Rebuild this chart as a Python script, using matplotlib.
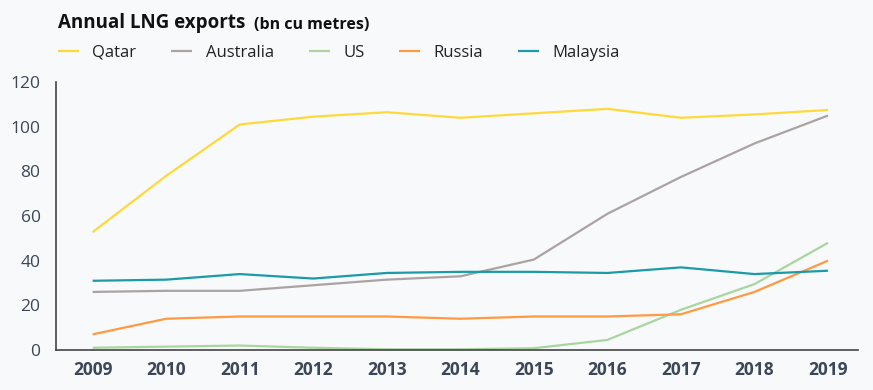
import matplotlib.pyplot as plt

years = list(range(2009, 2020))
qatar = [52.8, 78, 101, 104.5, 106.5, 104, 106, 108, 104, 105.5, 107.5]
australia = [26, 26.5, 26.5, 29, 31.5, 33, 40.5, 61, 77.5, 92.5, 105]
us = [1, 1.5, 2, 1, 0.3, 0.3, 0.8, 4.5, 18, 29.5, 48]
russia = [7, 14, 15, 15, 15, 14, 15, 15, 16, 26, 40]
malaysia = [31, 31.5, 34, 32, 34.5, 35, 35, 34.5, 37, 34, 35.5]

namen = ["Qatar", "Australia", "US", "Russia", "Malaysia"]
farben = ['#ffd93a', '#aba3a3', '#a9d6a0', '#ff9a42', '#1b9aa8']
reihen = [qatar, australia, us, russia, malaysia]

bg = '#f8f9fa'
txt = '#3b4657'
plt.rcParams['font.family'] = ['Open Sans', 'DejaVu Sans']

fig = plt.figure(figsize=(8.73, 3.9), dpi=100, facecolor=bg)
achse = fig.add_axes([0.064, 0.1026, 0.919, 0.687], facecolor=bg)

for werte, name, farbe in zip(reihen, namen, farben):
    achse.plot(years, werte, color=farbe, lw=1.6, label=name, solid_capstyle='butt')

achse.set_xlim(2008.5, 2019.41)
achse.set_ylim(0, 120)
achse.set_yticks(range(0, 121, 20))
achse.set_xticks(years)
achse.tick_params(length=0, colors=txt)
for lab in achse.get_yticklabels():
    lab.set_fontsize(12.5)
for lab in achse.get_xticklabels():
    lab.set_fontsize(12.5)
    lab.set_fontweight('bold')
achse.tick_params(axis='y', pad=11)
achse.tick_params(axis='x', pad=8)
for s in ['top', 'right']:
    achse.spines[s].set_visible(False)
for s in ['left', 'bottom']:
    achse.spines[s].set_color('#444444')
    achse.spines[s].set_linewidth(1.2)

fig.text(0.066, 0.942, 'Annual LNG exports', fontsize=13.5, fontweight='bold',
         color='#111111', va='center')
fig.text(0.291, 0.937, '(bn cu metres)', fontsize=11.5, fontweight='bold',
         color='#111111', va='center')

leg = fig.legend(loc='center left', bbox_to_anchor=(0.0664, 0.865), ncol=5,
                 frameon=False, fontsize=12, handlelength=1.26, handletextpad=0.8,
                 columnspacing=2.1, borderpad=0, borderaxespad=0)
for t in leg.get_texts():
    t.set_color('#222222')

fig.savefig('out.png', facecolor=bg)
